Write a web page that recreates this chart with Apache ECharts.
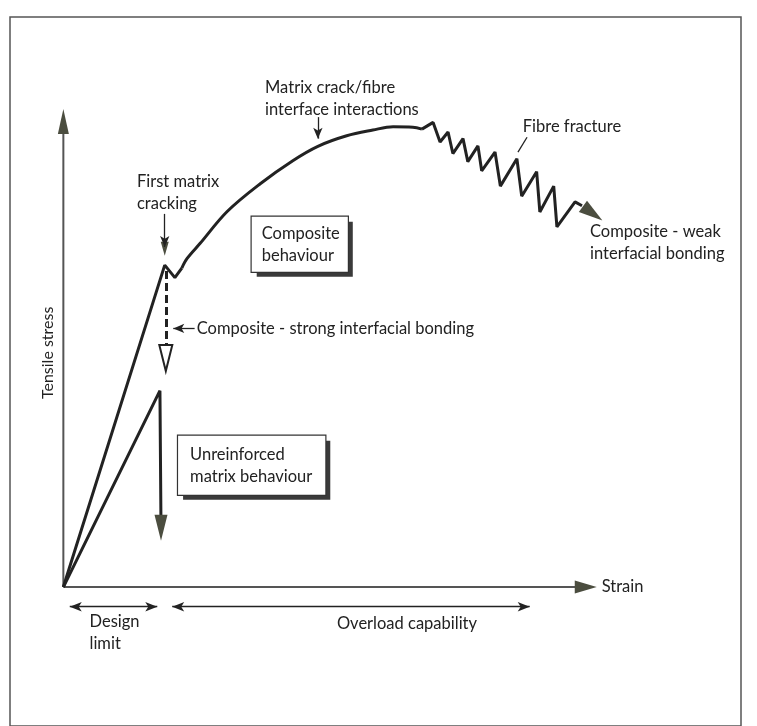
<!DOCTYPE html>
<html>
<head>
<meta charset="utf-8">
<script src="https://cdn.jsdelivr.net/npm/echarts@6/dist/echarts.min.js"></script>
<style>
  html, body { margin: 0; background: #fff; }
  #chart { width: 757px; height: 726px; }
</style>
</head>
<body>
<div id="chart"></div>
<script>
// schematic units: origin 0,0 ; both axis arrows end near 100
const strainAxis = [[0, 0], [97.9, 0]];
const stressAxis = [[0, 0], [0, 97.2]];

// composite: elastic rise, first matrix crack notch
const compositeElastic = [[0, 0], [19.0, 67.2], [20.9, 64.6], [22.2, 66.6]];
// matrix crack / fibre interface interactions
const compositeHardening = [
  [22.2, 66.6], [23.2, 68.6], [25.6, 71.7], [30.7, 78.4], [36.9, 84.2], [43.0, 89.0],
  [47.7, 92.0], [53.1, 94.2], [58.0, 95.4], [61.8, 96.1], [65.5, 96.0], [67.2, 95.6]
];
// fibre fracture saw-tooth, weak interfacial bonding
const fibreFracture = [
  [67.2, 95.6], [69.3, 97.0], [70.6, 92.9], [72.1, 95.0], [73.0, 90.5], [74.9, 93.6],
  [75.8, 88.8], [77.7, 92.1], [78.4, 86.9], [80.9, 90.8], [81.9, 83.7], [85.0, 89.4],
  [85.9, 81.6], [88.7, 86.7], [89.3, 78.3], [91.9, 83.7], [92.5, 75.2], [95.9, 80.4],
  [97.2, 79.6]
];
// unreinforced matrix: rise then sudden failure
const unreinforced = [[0, 0], [18.1, 41.0], [18.3, 12.4]];
// strong interfacial bonding drop (dashed)
const strongBondDrop = [[19.2, 66.0], [19.2, 47.8]];

// arrowheads: [from, to] (head sits on "to")
const solidHeads = [
  [[90, 0], [97.9, 0]],
  [[0, 90], [0, 97.2]],
  [[97.2, 79.6], [99.2, 78.0]],
  [[18.3, 20], [18.3, 12.4]],
  [[19.0, 75], [19.0, 70.6]]
];
const pointers = [
  [[19.0, 77.9], [19.0, 71]],
  [[24.6, 54.0], [20.6, 54.0]],
  [[47.7, 98.1], [47.7, 93.6]]
];
const plainTicks = [[[86.9, 93.9], [85.2, 90.8]]];
const spans = [
  [[1.2, -4.1], [17.6, -4.1]],
  [[20.4, -4.1], [87.4, -4.1]]
];

// text: [label, x, y] (top-left of the text block)
const notes = [
  ['Matrix crack/fibre\ninterface interactions', 37.8, 106.5],
  ['First matrix\ncracking', 13.8, 87.0],
  ['Fibre fracture', 86.1, 98.4],
  ['Composite - weak\ninterfacial bonding', 98.7, 76.4],
  ['Composite - strong interfacial bonding', 25.0, 56.3],
  ['Strain', 100.9, 2.3],
  ['Design\nlimit', 4.9, -4.9]
];
const boxedNotes = [
  ['Composite\nbehaviour', 35.3, 77.3],
  ['Unreinforced\nmatrix behaviour', 21.5, 31.6]
];
const centredNotes = [['Overload capability', 64.4, -5.3]];
const stressTitle = ['Tensile stress', -2.9, 48.9];

const ink = '#222';
const olive = '#4b4d3f';
const font = 'Lato';
const boxPadding = [[6, 8, 5, 10], [8, 13, 7, 12]];

const seg = (pair, extra) => [{coord: pair[0], ...(extra && extra.from)}, {coord: pair[1], ...(extra && extra.to)}];

const line = (name, data, width, color, extra) => Object.assign({
  type: 'line', name, data, symbol: 'none', silent: true, clip: false, animation: false,
  lineStyle: {width, color}
}, extra);

const noteLabel = {
  show: true, position: 'inside', align: 'left', verticalAlign: 'top', opacity: 1,
  fontFamily: font, fontSize: 16.5, lineHeight: 22, color: ink
};

const textData = []
  // drop shadows of the boxed notes first, so the boxes sit on top
  .concat(boxedNotes.map((n, i) => ({
    value: [n[1], n[2], n[0]],
    label: {color: 'transparent', backgroundColor: '#3a3a3a', padding: boxPadding[i], offset: [5, 5]}
  })))
  .concat(boxedNotes.map((n, i) => ({
    value: [n[1], n[2], n[0]],
    label: {backgroundColor: '#fff', borderColor: '#333', borderWidth: 1.2, padding: boxPadding[i]}
  })))
  .concat(notes.map(n => ({value: [n[1], n[2], n[0]]})))
  .concat(centredNotes.map(n => ({value: [n[1], n[2], n[0]], label: {align: 'center'}})))
  .concat([{
    value: [stressTitle[1], stressTitle[2], stressTitle[0]],
    label: {align: 'center', verticalAlign: 'middle', rotate: 90, fontSize: 16}
  }]);

const chart = echarts.init(document.getElementById('chart'));
chart.setOption({
  animation: false,
  backgroundColor: '#fff',
  grid: {left: 10, right: 16, top: 17, bottom: -4, show: true, borderColor: '#555', borderWidth: 1.5, backgroundColor: '#fff'},
  xAxis: {type: 'value', min: -10, max: 127, show: false},
  yAxis: {type: 'value', min: -29, max: 119, show: false},
  series: [
    line('strain axis', strainAxis, 2, '#555', {
      markLine: {
        silent: true, animation: false, symbol: ['none', 'triangle'], symbolSize: [13, 22],
        label: {show: false}, lineStyle: {width: 0, color: olive, type: 'solid'},
        data: solidHeads.map((h, i) => seg(h, {to: {symbolSize: [[13, 22], [11, 25], [14, 24], [13, 26], [8, 14]][i]}}))
      }
    }),
    line('stress axis', stressAxis, 2, '#555'),
    line('composite elastic', compositeElastic, 3, ink, {
      markLine: {
        silent: true, animation: false, symbol: ['none', 'arrow'], symbolSize: [7, 11],
        label: {show: false}, lineStyle: {width: 1.3, color: ink, type: 'solid'},
        data: pointers.map(p => seg(p))
          .concat(plainTicks.map(p => seg(p, {to: {symbol: 'none'}})))
          .concat(spans.map(p => seg(p, {from: {symbol: 'arrow', symbolSize: [7, 12]}, to: {symbolSize: [7, 12]}})))
      }
    }),
    line('composite hardening', compositeHardening, 3, ink, {smooth: 0.35}),
    line('fibre fracture', fibreFracture, 3, ink),
    line('unreinforced matrix', unreinforced, 3, ink, {
      markLine: {
        silent: true, animation: false, symbol: ['none', 'emptyTriangle'], symbolSize: [13, 26],
        label: {show: false}, lineStyle: {width: 3, color: ink, type: [8, 4]},
        data: [seg(strongBondDrop)]
      }
    }),
    {
      type: 'scatter', name: 'notes', silent: true, animation: false, symbolSize: 0,
      itemStyle: {opacity: 1},
      data: textData,
      label: Object.assign({formatter: p => p.value[2]}, noteLabel),
      z: 5
    }
  ]
});
</script>
</body>
</html>
